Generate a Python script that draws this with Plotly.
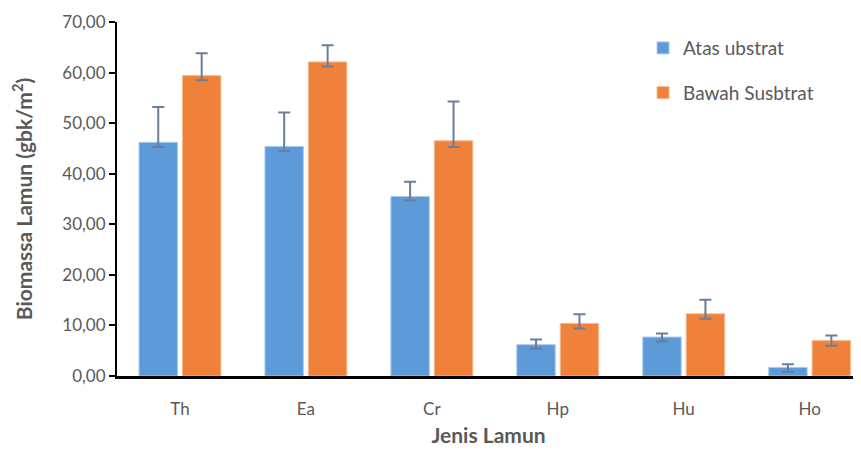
import plotly.graph_objects as go

categories = ["Th", "Ea", "Cr", "Hp", "Hu", "Ho"]
atas = [46.2, 45.4, 35.5, 6.2, 7.7, 1.7]
atas_err_plus = [7.0, 6.7, 2.9, 1.0, 0.7, 0.6]
atas_err_minus = [0.9, 0.9, 0.8, 0.8, 0.9, 0.9]
bawah = [59.4, 62.1, 46.5, 10.4, 12.3, 7.0]
bawah_err_plus = [4.4, 3.3, 7.8, 1.8, 2.8, 1.0]
bawah_err_minus = [0.9, 0.9, 1.2, 1.0, 1.0, 1.0]
y_ticks = [0, 10, 20, 30, 40, 50, 60, 70]
y_tick_labels = ["0,00", "10,00", "20,00", "30,00", "40,00", "50,00", "60,00", "70,00"]

err_color = "#6b7d99"
font_family = "Lato, 'Open Sans', sans-serif"
grey = "#595959"

fig = go.Figure()
fig.add_trace(go.Bar(
    x=categories, y=atas, name="Atas ubstrat", legendgroup="a",
    marker=dict(color="#5d9bd8", line=dict(color="#a9cbee", width=1)),
    error_y=dict(type="data", array=atas_err_plus, arrayminus=atas_err_minus,
                 symmetric=False, color=err_color, thickness=2, width=6),
))
fig.add_trace(go.Bar(
    x=categories, y=bawah, name="Bawah Susbtrat", legendgroup="b",
    marker=dict(color="#f0813a", line=dict(color="#f7b98e", width=1)),
    error_y=dict(type="data", array=bawah_err_plus, arrayminus=bawah_err_minus,
                 symmetric=False, color=err_color, thickness=2, width=6),
))

fig.update_layout(
    width=853, height=444,
    margin=dict(l=109, r=1, t=14, b=76),
    paper_bgcolor="white", plot_bgcolor="white",
    barmode="group", bargap=0.31, bargroupgap=0.115,
    font=dict(family=font_family, color=grey, size=17),
    showlegend=True,
    legend=dict(x=0.708, y=0.98, xanchor="left", yanchor="top",
                font=dict(size=19, color=grey), tracegroupgap=17,
                traceorder="grouped", itemwidth=30, bgcolor="rgba(0,0,0,0)"),
    xaxis=dict(
        range=[-0.5, 5.4], showline=True, linecolor="black", linewidth=2.5,
        ticks="", tickfont=dict(size=17, color=grey), ticklabelstandoff=16,
        title=dict(text="<b>Jenis Lamun</b>", font=dict(size=21, color=grey), standoff=11),
        showgrid=False, zeroline=False,
    ),
    yaxis=dict(
        range=[0, 70], tickvals=y_ticks, ticktext=y_tick_labels,
        showline=True, linecolor="black", linewidth=2, ticks="outside",
        tickcolor="black", ticklen=6, tickwidth=2,
        tickfont=dict(size=17, color=grey), showgrid=False, zeroline=False,
        title=dict(text="<b>Biomassa Lamun (gbk/m<sup>2</sup>)</b>",
                   font=dict(size=21, color=grey), standoff=30),
    ),
)

fig.write_html("out.html")
